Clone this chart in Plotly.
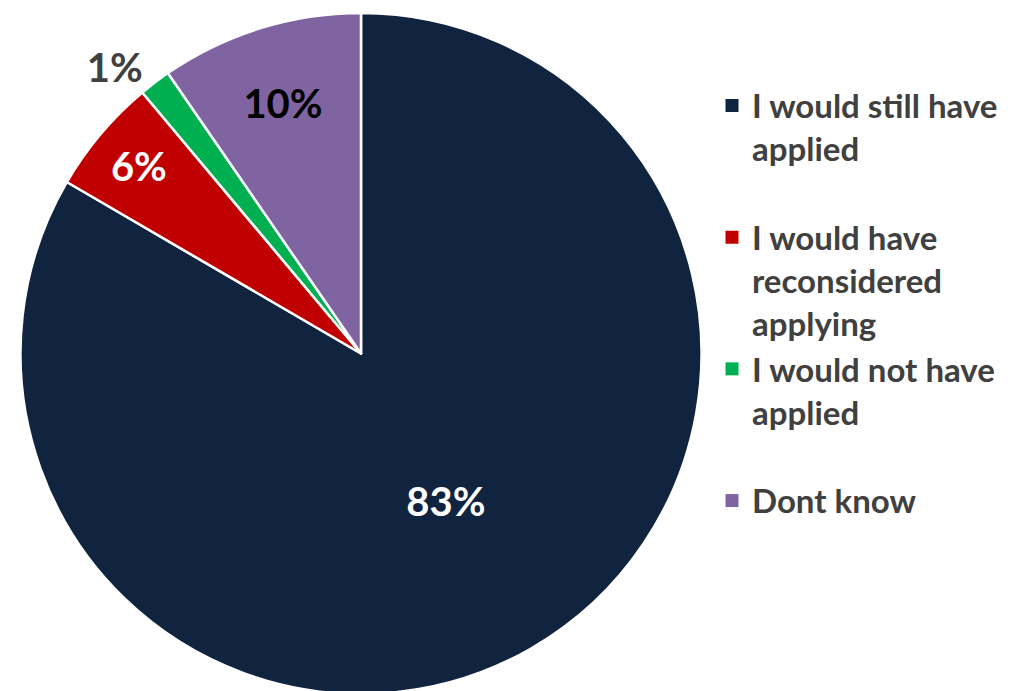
import plotly.graph_objects as go

categories = ["I would still have applied", "I would have reconsidered applying",
              "I would not have applied", "Dont know"]
legend_labels = ["I would still have<br>applied<br>&nbsp;",
                 "I would have<br>reconsidered<br>applying",
                 "I would not have<br>applied<br>&nbsp;",
                 "Dont know<br>&nbsp;<br>&nbsp;"]
values = [83.4, 5.5, 1.5, 9.6]
pct_labels = ["83%", "6%", "1%", "10%"]
colors = ["#10233F", "#C00000", "#00B050", "#8064A2"]
text_colors = ["#FFFFFF", "#FFFFFF", "#404040", "#000000"]
text_positions = ["inside", "inside", "outside", "inside"]

W, H = 1013, 691
fig = go.Figure()
fig.add_trace(go.Pie(
    labels=categories,
    values=values,
    text=pct_labels,
    textinfo="text",
    textposition=text_positions,
    insidetextorientation="horizontal",
    textfont=dict(family="Lato", size=40, color=text_colors, weight="bold"),
    marker=dict(colors=colors, line=dict(color="#FFFFFF", width=2.5)),
    sort=False,
    direction="clockwise",
    rotation=0,
    hole=0,
    domain=dict(x=[10 / W, 696 / W], y=[3 / H, 689 / H]),
    showlegend=False,
))

for i, (lab, col) in enumerate(zip(legend_labels, colors)):
    fig.add_trace(go.Scatter(
        x=[None], y=[None], mode="markers", name=lab,
        marker=dict(symbol="square", size=13, color=col),
        legendgroup=f"g{i}", showlegend=True, hoverinfo="skip",
    ))

fig.update_layout(
    width=W, height=H,
    margin=dict(l=0, r=0, t=0, b=0),
    paper_bgcolor="white",
    plot_bgcolor="white",
    xaxis=dict(visible=False, domain=[0.99, 1]),
    yaxis=dict(visible=False, domain=[0.99, 1]),
    legend=dict(
        x=704 / W, y=1 - 67 / H, xanchor="left", yanchor="top",
        font=dict(family="Lato", size=33, color="#404040", weight="bold"),
        valign="top",
        itemwidth=30,
        tracegroupgap=0,
        bgcolor="rgba(0,0,0,0)",
    ),
)

fig.write_html("out.html")
